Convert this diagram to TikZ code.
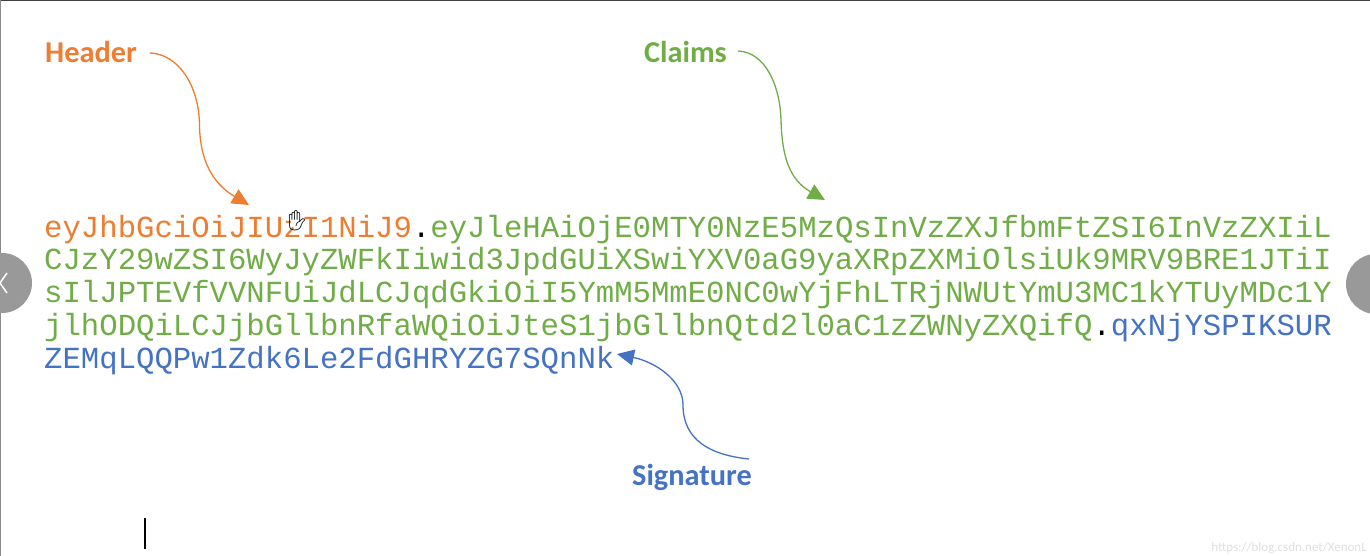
\documentclass[tikz,border=0pt]{standalone}
\usepackage{fontspec}
\setmainfont{Carlito}
\setmonofont{Liberation Mono}
\newfontfamily\handfont{Noto Emoji}
\usetikzlibrary{arrows.meta}
\definecolor{hdrorange}{RGB}{237,125,49}
\definecolor{clmgreen}{RGB}{112,173,71}
\definecolor{sigblue}{RGB}{68,114,196}
\tikzset{
  tokenline/.style={anchor=base west,inner sep=0pt,font=\fontsize{30.65}{30.65}\selectfont\ttfamily},
  partlabel/.style={anchor=base west,inner sep=0pt,font=\fontsize{30.3}{30.3}\selectfont\bfseries},
  partarrow/.style={-{Triangle[length=17pt,width=16pt]},line width=1.3pt},
  navbutton/.style={fill=black!40,draw=none},
}
\begin{document}
\begin{tikzpicture}[x=1pt,y=-1pt]
  \useasboundingbox (0,0) rectangle (1370,556);
  \fill[white] (0,0) rectangle (1370,556);
  \draw[line width=1.5pt,color=black!75] (0,0.7) -- (1370,0.7);
  \draw[line width=1pt,color=black!45] (0.5,0) -- (0.5,556);
  \fill[navbutton] (2,283) circle (30);
  \fill[navbutton] (1376,284) circle (30);
  \draw[white,line width=1.5pt] (7,273) -- (0,283) -- (7,293);

  % token text, one node per line
  \node[tokenline] (lineA) at (44,237) {\textcolor{hdrorange}{eyJhbGciOiJIUzI1NiJ9}\textcolor{black}{.}\textcolor{clmgreen}{eyJleHAiOjE0MTY0NzE5MzQsInVzZXJfbmFtZSI6InVzZXIiL}};
  \node[tokenline,text=clmgreen] (lineB) at (44,269.8) {CJzY29wZSI6WyJyZWFkIiwid3JpdGUiXSwiYXV0aG9yaXRpZXMiOlsiUk9MRV9BRE1JTiI};
  \node[tokenline,text=clmgreen] (lineC) at (44,302.6) {sIlJPTEVfVVNFUiJdLCJqdGkiOiI5YmM5MmE0NC0wYjFhLTRjNWUtYmU3MC1kYTUyMDc1Y};
  \node[tokenline,text=clmgreen] (lineD) at (44,335.4) {jlhODQiLCJjbGllbnRfaWQiOiJteS1jbGllbnQtd2l0aC1zZWNyZXQifQ\textcolor{black}{.}\textcolor{sigblue}{qxNjYSPIKSUR}};
  \node[tokenline,text=sigblue] (lineE) at (44,368) {ZEMqLQQPw1Zdk6Le2FdGHRYZG7SQnNk};

  \node[partlabel,text=hdrorange] (header) at (45,63) {Header};
  \node[partlabel,text=clmgreen] (claims) at (644,63) {Claims};
  \node[partlabel,text=sigblue] (signature) at (632,485) {Signature};

  \coordinate (headerStart) at (150,53);
  \coordinate (headerTip) at (249,205);
  \coordinate (claimsStart) at (738,51);
  \coordinate (claimsTip) at (825,200);
  \coordinate (signatureStart) at (749,459);
  \coordinate (signatureTip) at (617,354);

  \draw[partarrow,hdrorange] (headerStart) .. controls (178,54) and (199,85) .. (199.5,125) .. controls (200,160) and (212,183) .. (headerTip);
  \draw[partarrow,clmgreen] (claimsStart) .. controls (765,52) and (780,85) .. (781,120) .. controls (782,158) and (790,180) .. (claimsTip);
  \draw[partarrow,sigblue] (signatureStart) .. controls (710,455) and (683,440) .. (683,405) .. controls (683,380) and (655,362) .. (signatureTip);

  \fill[white] (297,222) ellipse (6 and 7);
  \node[inner sep=0pt,font=\handfont\fontsize{20}{20}\selectfont] (hand) at (297,221) {✋};
  \coordinate (caretTop) at (145,518);
  \coordinate (caretEnd) at (145,549);
  \draw[line width=1.2pt] (caretTop) -- (caretEnd);
  \node[anchor=base east,inner sep=0pt,text=black!12,font=\fontsize{13}{13}\selectfont] (mark) at (1367,551) {https://blog.csdn.net/XenonL};
\end{tikzpicture}
\end{document}
